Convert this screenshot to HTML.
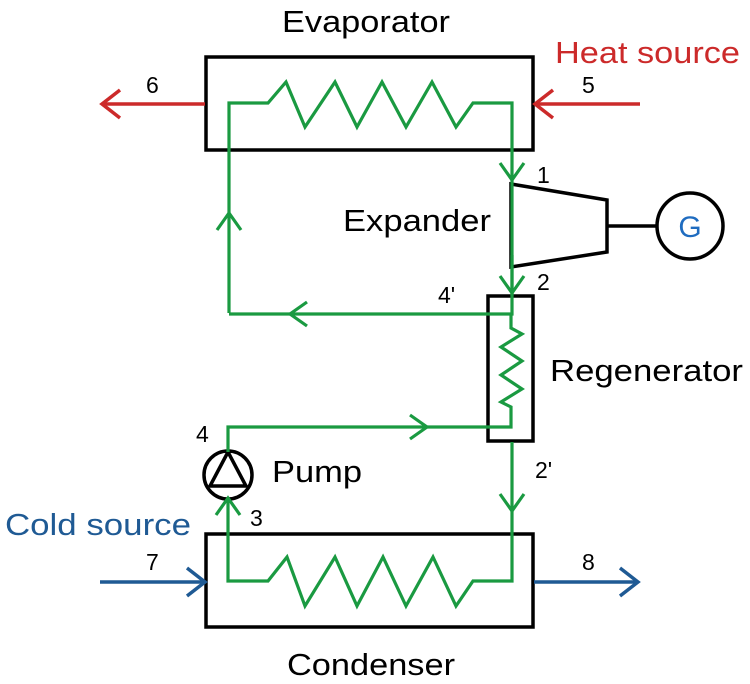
<!DOCTYPE html>
<html><head><meta charset="utf-8"><style>html,body{margin:0;padding:0;background:#fff}svg{display:block}text{font-family:"Liberation Sans",Arial,sans-serif}</style></head>
<body>
<svg width="750" height="684" viewBox="0 0 750 684" xmlns="http://www.w3.org/2000/svg">
<g fill="none" stroke-linejoin="miter">
<rect x="206" y="57" width="327" height="93" stroke="#000" stroke-width="3.5"/>
<rect x="206" y="534" width="327" height="93" stroke="#000" stroke-width="3.5"/>
<rect x="488" y="296" width="45" height="145" stroke="#000" stroke-width="3.5"/>
<polygon points="511,184 607,200 607,252 511,267" stroke="#000" stroke-width="3.5"/>
<line x1="607" y1="226" x2="657" y2="226" stroke="#000" stroke-width="3.5"/>
<circle cx="690" cy="226" r="33" stroke="#000" stroke-width="3.5"/>
<circle cx="228" cy="475" r="24" stroke="#000" stroke-width="3.5"/>
<polygon points="228,452 210,486 246,486" stroke="#000" stroke-width="3.5"/>
<g stroke="#1a9a41" stroke-width="3.2">
<polyline points="229,313 229,103 268,103 286,82 305,127 335,82 357,127 382,82 406,127 432,82 456,127 473,103 512,103 512,296"/>
<polyline points="512,255 512,314 229,314"/>
<polyline points="511,314 511,328 522,334 501,347 522,361 501,375 522,389 501,402 511,407 511,427 228,427 228,452"/>
<polyline points="228,498 228,581 268,581 287,557 305,606 335,557 357,606 383,557 406,606 433,557 456,606 473,581 512,581 512,442"/>
<polyline points="500,163 512,180 524,163"/>
<polyline points="500,276 512,293 524,276"/>
<polyline points="307,302 290,314 307,326"/>
<polyline points="217,230 229,213 241,230"/>
<polyline points="410,415 427,427 410,439"/>
<polyline points="216,515 228,498 240,515"/>
<polyline points="500,494 512,511 524,494"/>
</g>
<g stroke="#cc2a2a" stroke-width="3.5">
<line x1="102" y1="104" x2="205" y2="104"/>
<polyline points="120,90 102,104 120,118"/>
<line x1="535" y1="104" x2="640" y2="104"/>
<polyline points="553,90 535,104 553,118"/>
</g>
<g stroke="#1f5a94" stroke-width="3.5">
<line x1="100" y1="582" x2="205" y2="582"/>
<polyline points="187,568 205,582 187,596"/>
<line x1="534" y1="582" x2="638" y2="582"/>
<polyline points="620,568 638,582 620,596"/>
</g>
</g>
<g font-size="31" fill="#000">
<text x="282" y="32" textLength="168" lengthAdjust="spacingAndGlyphs">Evaporator</text>
<text x="287" y="675" textLength="168" lengthAdjust="spacingAndGlyphs">Condenser</text>
<text x="343" y="231" textLength="148" lengthAdjust="spacingAndGlyphs">Expander</text>
<text x="550" y="381" textLength="193" lengthAdjust="spacingAndGlyphs">Regenerator</text>
<text x="272" y="482" textLength="90" lengthAdjust="spacingAndGlyphs">Pump</text>
<text x="555" y="63" fill="#cc2a2a" textLength="185" lengthAdjust="spacingAndGlyphs">Heat source</text>
<text x="5" y="535" fill="#1f5a94" textLength="186" lengthAdjust="spacingAndGlyphs">Cold source</text>
<text x="690" y="237" fill="#1f6cc0" font-size="30" text-anchor="middle">G</text>
</g>
<g font-size="23" fill="#000">
<text x="146" y="93">6</text>
<text x="582" y="93">5</text>
<text x="537" y="183">1</text>
<text x="537" y="290">2</text>
<text x="438" y="303">4'</text>
<text x="535" y="478">2'</text>
<text x="196" y="442">4</text>
<text x="250" y="526">3</text>
<text x="146" y="570">7</text>
<text x="582" y="570">8</text>
</g>
</svg>
</body></html>
